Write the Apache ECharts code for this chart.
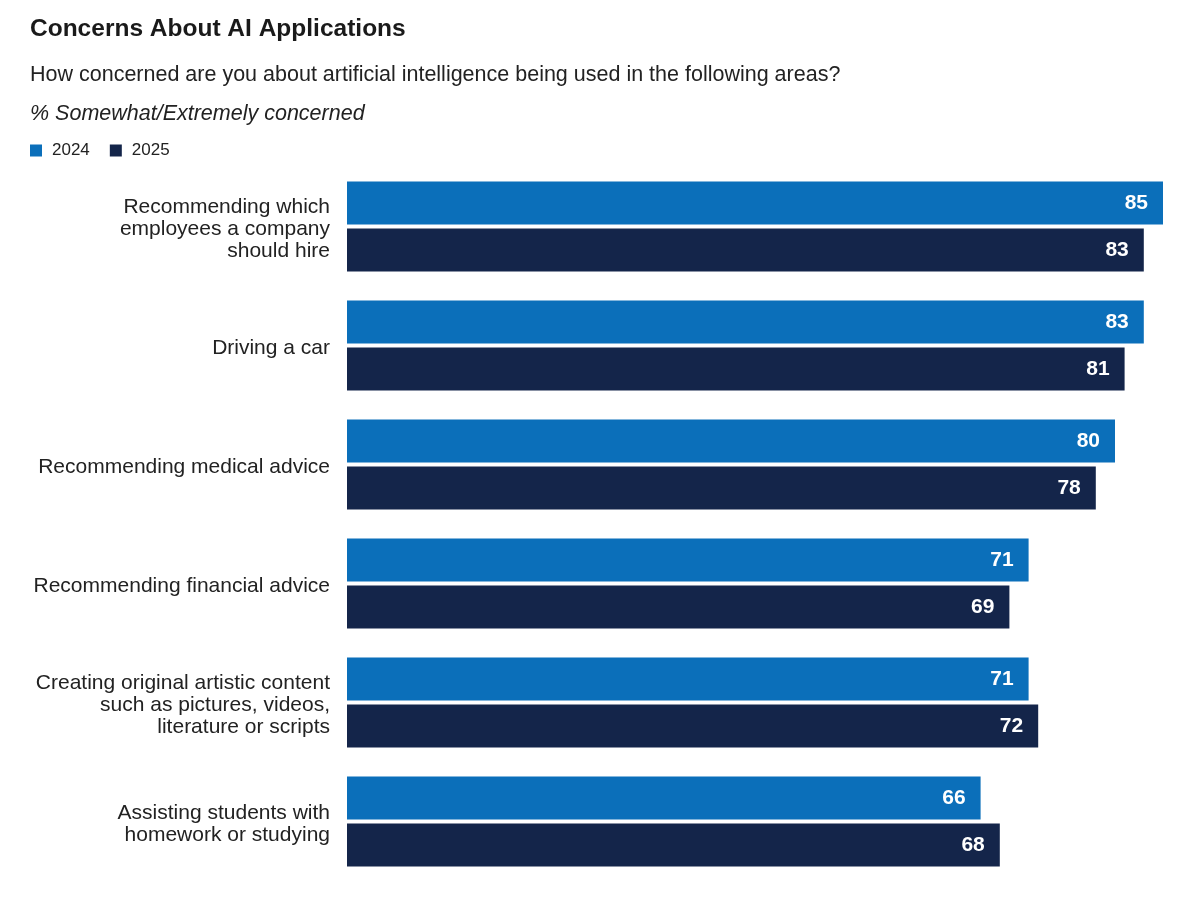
<!DOCTYPE html>
<html>
<head>
<meta charset="utf-8">
<script src="https://cdn.jsdelivr.net/npm/echarts@6/dist/echarts.min.js"></script>
<style>
  html, body { margin: 0; padding: 0; background: #fff; }
  #chart { width: 1191px; height: 909px; }
</style>
</head>
<body>
<div id="chart"></div>
<script>
// data
var categories = [
    'Recommending which\nemployees a company\nshould hire',
    'Driving a car',
    'Recommending medical advice',
    'Recommending financial advice',
    'Creating original artistic content\nsuch as pictures, videos,\nliterature or scripts',
    'Assisting students with\nhomework or studying'
];
var values2024 = [85, 83, 80, 71, 71, 66];
var values2025 = [83, 81, 78, 69, 72, 68];
var seriesNames = ['2024', '2025'];

var fontFamily = "'Liberation Sans', Arial, Helvetica, sans-serif";
var textColor = '#222';
var colors = ['#0b6fba', '#14254a'];

var myChart = echarts.init(document.getElementById('chart'));

var labelStyle = {
    show: true,
    position: 'insideRight',
    distance: 15,
    color: '#fff',
    fontFamily: fontFamily,
    fontWeight: 'bold',
    fontSize: 21
};

var option = {
    backgroundColor: '#fff',
    animation: false,
    title: [{
        text: 'Concerns About AI Applications',
        left: 30,
        top: 17,
        padding: 0,
        textStyle: {
            color: '#1a1a1a',
            fontFamily: fontFamily,
            fontWeight: 'bold',
            fontSize: 24.5
        }
    }, {
        text: 'How concerned are you about artificial intelligence being used in the following areas?',
        left: 30,
        top: 64,
        padding: 0,
        textStyle: {
            color: textColor,
            fontFamily: fontFamily,
            fontWeight: 'normal',
            fontSize: 21.5
        }
    }, {
        text: '% Somewhat/Extremely concerned',
        left: 30,
        top: 103,
        padding: 0,
        textStyle: {
            color: textColor,
            fontFamily: fontFamily,
            fontWeight: 'normal',
            fontStyle: 'italic',
            fontSize: 21.5
        }
    }],
    legend: {
        data: seriesNames,
        left: 25,
        top: 137,
        icon: 'rect',
        itemWidth: 12,
        itemHeight: 12,
        itemGap: 20,
        textStyle: {
            color: textColor,
            fontFamily: fontFamily,
            fontSize: 17,
            padding: [0, 0, 0, 5]
        }
    },
    grid: {
        left: 347,
        right: 28,
        top: 167,
        bottom: 28
    },
    xAxis: {
        type: 'value',
        min: 0,
        max: 85,
        show: false
    },
    yAxis: {
        type: 'category',
        data: categories,
        inverse: true,
        axisLine: { show: false },
        axisTick: { show: false },
        axisLabel: {
            margin: 17,
            color: textColor,
            fontFamily: fontFamily,
            fontSize: 21,
            lineHeight: 22,
            align: 'right',
            // small empty line on top nudges the text block down a little
            formatter: function (v) {
                return '{s|}\n' + v;
            },
            rich: {
                s: { fontSize: 1, lineHeight: 6 }
            }
        }
    },
    series: [{
        name: seriesNames[0],
        type: 'bar',
        data: values2024,
        barWidth: 43,
        barGap: '9%',
        itemStyle: { color: colors[0] },
        label: labelStyle
    }, {
        name: seriesNames[1],
        type: 'bar',
        data: values2025,
        barWidth: 43,
        barGap: '9%',
        itemStyle: { color: colors[1] },
        label: labelStyle
    }]
};
myChart.setOption(option);
</script>
</body>
</html>
